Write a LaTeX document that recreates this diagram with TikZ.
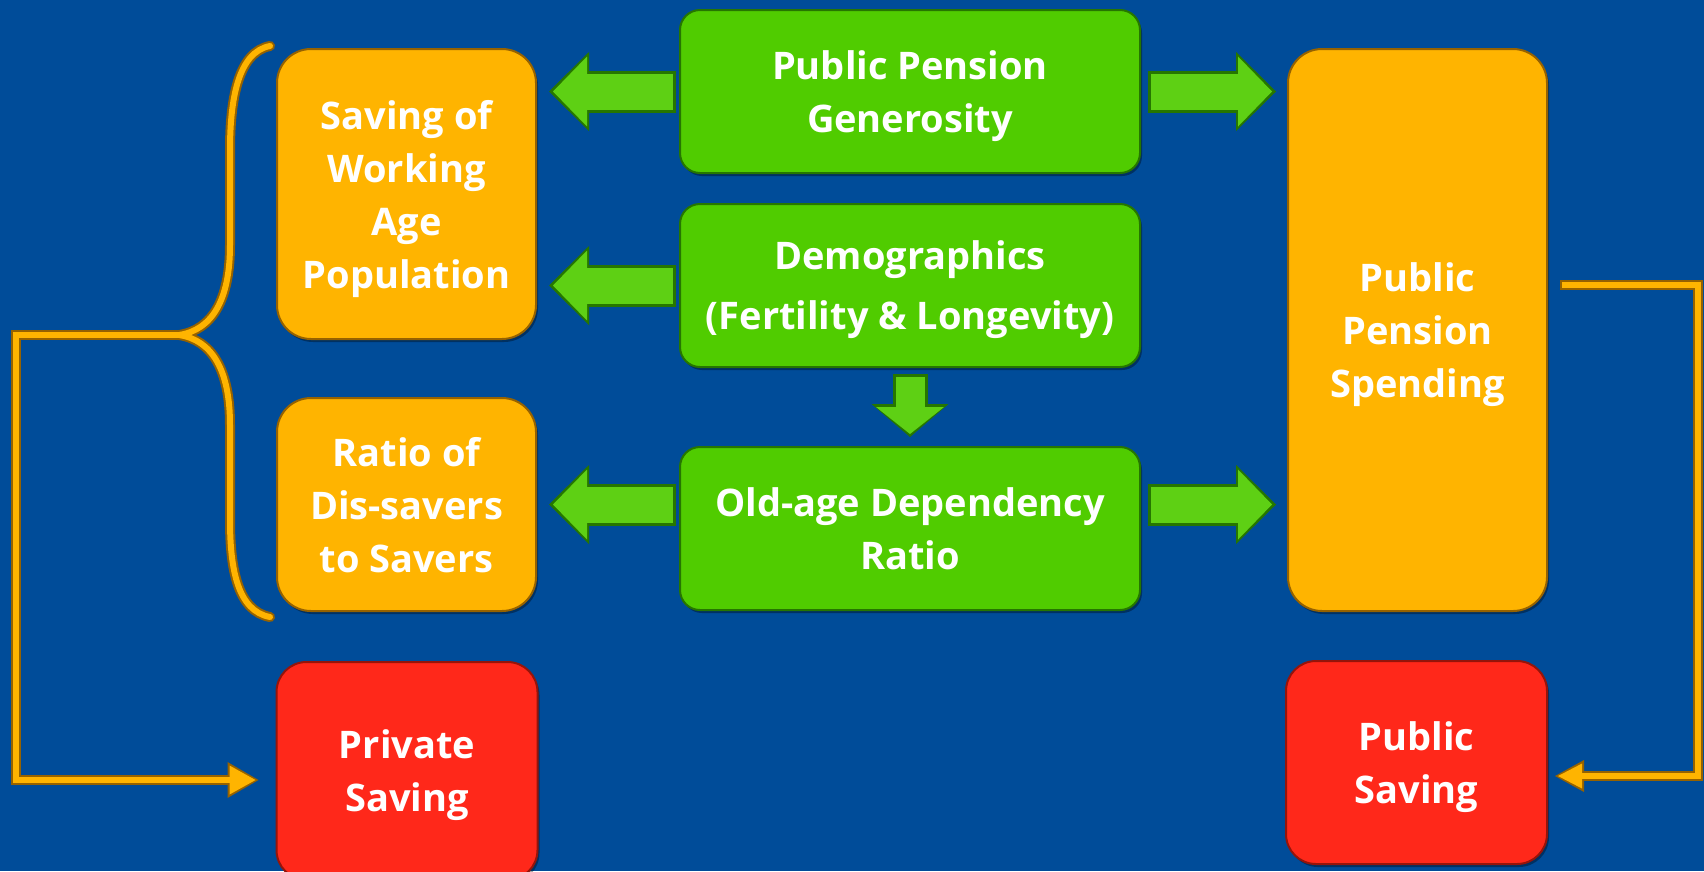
\documentclass[tikz,border=0pt]{standalone}
\usepackage{fontspec}
\setmainfont{Open Sans}
\usetikzlibrary{arrows.meta,shadows}

\definecolor{slide}{RGB}{0,76,153}
\definecolor{leaf}{RGB}{80,204,0}
\definecolor{leafdark}{RGB}{38,118,0}
\definecolor{amber}{RGB}{255,180,0}
\definecolor{amberdark}{RGB}{150,98,0}
\definecolor{flame}{RGB}{255,40,26}
\definecolor{flamedark}{RGB}{150,20,10}

\tikzset{
  box/.style={draw, line width=2pt, inner sep=0pt, outer sep=0pt, align=center,
    text=white, font=\fontsize{38}{53}\selectfont\bfseries, text depth=0pt,
    drop shadow={shadow xshift=2pt, shadow yshift=-3pt, fill=black, opacity=.35}},
  driver/.style={box, fill=leaf, draw=leafdark, rounded corners=20pt,
    minimum width=460pt, minimum height=163pt},
  channel/.style={box, fill=amber, draw=amberdark, rounded corners=34pt, minimum width=259pt},
  outcome/.style={box, fill=flame, draw=flamedark, rounded corners=30pt, minimum width=261pt},
  % green block arrows: a dark rim under a lighter body
  fatrim/.style={draw=leafdark, line width=42pt,
    -{Triangle[length=40pt,width=79pt,line width=0pt]}},
  fatbody/.style={draw=leaf!92!white, line width=36pt,
    -{Triangle[length=34pt,width=70pt,line width=0pt]}},
  downrim/.style={draw=leafdark, line width=35pt,
    -{Triangle[length=33pt,width=77pt,line width=0pt]}},
  downbody/.style={draw=leaf!92!white, line width=29pt,
    -{Triangle[length=27pt,width=68pt,line width=0pt]}},
  % orange piping
  piperim/.style={draw=amberdark, line width=10pt},
  pipebody/.style={draw=amber, line width=6pt},
}

\begin{document}
\begin{tikzpicture}[x=1pt,y=-1pt]
  \useasboundingbox (0,0) rectangle (1704,871);
  \clip (0,0) rectangle (1704,871);
  \fill[slide] (0,0) rectangle (1704,871);

  % drivers in the middle column
  \node[driver] (gen) at (910,91.5) {Public Pension\\Generosity};
  \node[driver] (demo) at (910,285.5) {Demographics\\[7pt](Fertility \& Longevity)};
  \node[driver] (old) at (910,528.5) {Old-age Dependency\\Ratio};

  % private side
  \node[channel, minimum height=290pt] (work) at (406.5,194) {Saving of\\Working\\Age\\Population};
  \node[channel, minimum height=213pt] (ratio) at (406.5,504.5) {Ratio of\\Dis-savers\\to Savers};
  \node[outcome, minimum height=218pt] (priv) at (407,771) {Private\\Saving};

  % public side
  \node[channel, minimum height=562pt] (spend) at (1417.5,330) {Public\\Pension\\Spending};
  \node[outcome, minimum height=203pt] (pub) at (1416.5,762.5) {Public\\Saving};

  % block arrows
  \foreach \a/\b/\s/\e in {(gen.west)/(gen.west -| work.east)/4/13,
                         (demo.west)/(demo.west -| work.east)/4/13,
                         (ratio.east -| old.west)/(ratio.east)/4/13,
                         (gen.east)/(gen.east -| spend.west)/8/12,
                         (ratio.east -| old.east)/(ratio.east -| spend.west)/8/12} {
    \draw[fatrim, shorten <=\s pt, shorten >=\e pt] \a -- \b;
    \draw[fatbody, shorten <=\s pt+3pt, shorten >=\e pt+4pt] \a -- \b;
  }
  \draw[downrim, shorten <=7pt, shorten >=10pt] (demo.south) -- (old.north);
  \draw[downbody, shorten <=10pt, shorten >=13pt] (demo.south) -- (old.north);

  % brace gathering the two private channels
  \coordinate (bracetip) at (179,335);
  \foreach \p in {piperim,pipebody}
    \draw[\p, line cap=round] (270,46) .. controls (238,52) and (230,100) .. (230,150)
      -- (230,245) .. controls (230,300) and (212,330) .. (bracetip)
      .. controls (212,340) and (230,370) .. (230,425) -- (230,520)
      .. controls (230,570) and (238,611) .. (270,617);

  % feedback pipes
  \draw[piperim, -{Triangle[length=31pt,width=36pt,line width=0pt]}, shorten >=18pt]
    (bracetip) -- ++(-163,0) |- ([yshift=-9pt]priv.west);
  \draw[pipebody, -{Triangle[length=26pt,width=29pt,line width=0pt]}, shorten >=21pt]
    (bracetip) -- ++(-163,0) |- ([yshift=-9pt]priv.west);
  \draw[piperim, -{Triangle[length=29pt,width=32pt,line width=0pt]}, shorten <=13pt, shorten >=8pt]
    ([yshift=45pt]spend.east) -- ++(151,0) |- ([yshift=-13.5pt]pub.east);
  \draw[pipebody, -{Triangle[length=24pt,width=25pt,line width=0pt]}, shorten <=15pt, shorten >=11pt]
    ([yshift=45pt]spend.east) -- ++(151,0) |- ([yshift=-13.5pt]pub.east);
\end{tikzpicture}
\end{document}
